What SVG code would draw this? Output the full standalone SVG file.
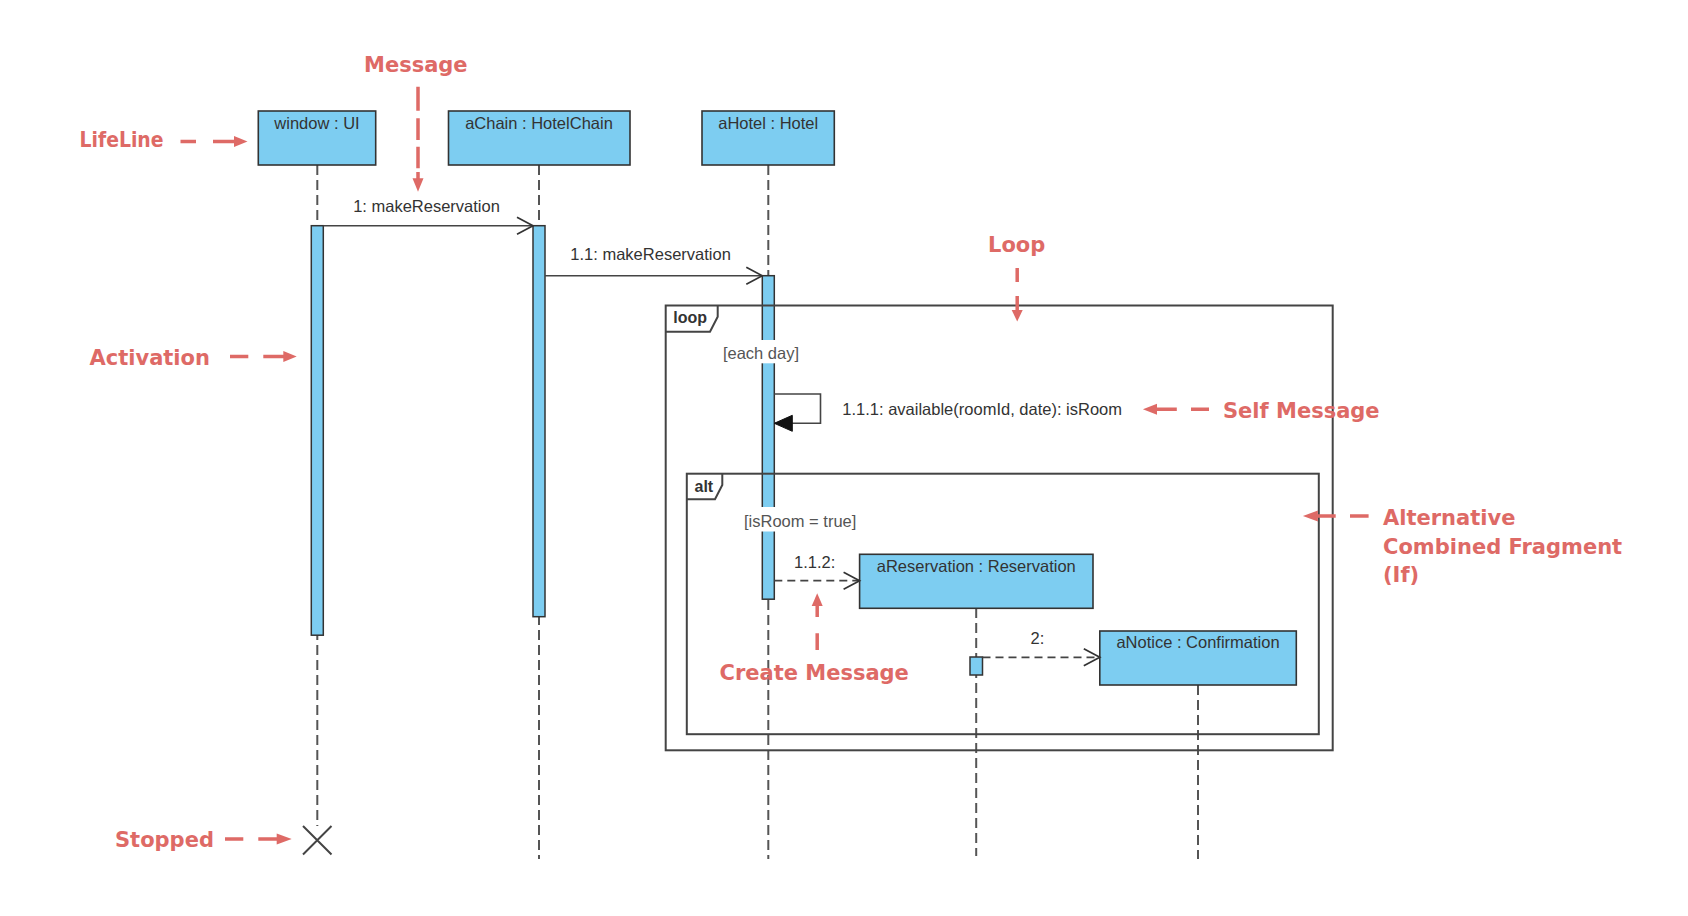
<svg xmlns="http://www.w3.org/2000/svg" width="1688" height="916" viewBox="0 0 1688 916">
<style>
.box{fill:#7dcdf1;stroke:#333;stroke-width:1.6}
.act{fill:#7dcdf1;stroke:#333;stroke-width:1.5}
.life{stroke:#555;stroke-width:2;stroke-dasharray:10 5;fill:none}
.msg{stroke:#444;stroke-width:1.6;fill:none}
.dmsg{stroke:#444;stroke-width:1.8;fill:none;stroke-dasharray:8 5}
.frame{fill:none;stroke:#444;stroke-width:2}
.lbl{font-family:"Liberation Sans",Arial,sans-serif;font-size:16.5px;fill:#333}
.glbl{font-family:"Liberation Sans",Arial,sans-serif;font-size:16.5px;fill:#555}
.ftag{font-family:"Liberation Sans",Arial,sans-serif;font-size:16px;font-weight:bold;fill:#333}
.ann{font-family:"DejaVu Sans",sans-serif;font-size:21px;font-weight:bold;fill:#de6a66}
.aline{stroke:#de6a66;stroke-width:3.5;fill:none}
.ahead{fill:#de6a66}
</style>
<defs>
<marker id="open" viewBox="-18 -10 20 20" markerWidth="20" markerHeight="20" refX="0" refY="0" orient="auto" markerUnits="userSpaceOnUse">
<path d="M-16,-8.5 L0,0 L-16,8.5" fill="none" stroke="#333" stroke-width="1.7"/>
</marker>
<marker id="filled" viewBox="-20 -10 22 20" markerWidth="22" markerHeight="20" refX="0" refY="0" orient="auto" markerUnits="userSpaceOnUse">
<path d="M-18,-8 L0,0 L-18,8 Z" fill="#111" stroke="#111" stroke-width="1"/>
</marker>
</defs>
<rect width="1688" height="916" fill="#fff"/>

<g id="lifelines">
<line class="life" x1="317.3" y1="165" x2="317.3" y2="826"/>
<line class="life" x1="539" y1="165" x2="539" y2="859"/>
<line class="life" x1="768.3" y1="165" x2="768.3" y2="859"/>
<line class="life" x1="976.2" y1="608" x2="976.2" y2="856"/>
<line class="life" x1="1198" y1="685" x2="1198" y2="859"/>
</g>

<g id="node-window">
<rect class="box" x="258.3" y="111" width="117.4" height="54"/>
<text class="lbl" x="317" y="129.3" text-anchor="middle">window : UI</text>
</g>
<g id="node-aChain">
<rect class="box" x="448.5" y="111" width="181.5" height="54"/>
<text class="lbl" x="539" y="129.3" text-anchor="middle">aChain : HotelChain</text>
</g>
<g id="node-aHotel">
<rect class="box" x="702" y="111" width="132.3" height="54"/>
<text class="lbl" x="768.2" y="129.3" text-anchor="middle">aHotel : Hotel</text>
</g>
<g id="node-aReservation">
<rect class="box" x="859.6" y="554.3" width="233.4" height="54"/>
<text class="lbl" x="976.3" y="571.7" text-anchor="middle">aReservation : Reservation</text>
</g>
<g id="node-aNotice">
<rect class="box" x="1099.8" y="631" width="196.5" height="54"/>
<text class="lbl" x="1198" y="648.3" text-anchor="middle">aNotice : Confirmation</text>
</g>

<g id="activations">
<rect class="act" x="311.3" y="225.7" width="12" height="409.5"/>
<rect class="act" x="533" y="225.7" width="12" height="391"/>
<rect class="act" x="762.3" y="275.7" width="12" height="323.5"/>
<rect class="act" x="970" y="657" width="12.5" height="18"/>
</g>

<g id="stop">
<path d="M303,826 L331.5,854.5 M331.5,826 L303,854.5" stroke="#444" stroke-width="2" fill="none"/>
</g>

<g id="fragment-loop">
<rect class="frame" x="665.7" y="305.5" width="667" height="444.8"/>
<path class="frame" d="M665.7,331.7 H710 L717.7,316.7 V305.5"/>
<text class="ftag" x="673.3" y="323.3">loop</text>
<rect x="721" y="340" width="82" height="23.3" fill="#fff"/>
<text class="glbl" x="722.9" y="359">[each day]</text>
</g>

<g id="fragment-alt">
<rect class="frame" x="686.8" y="473.7" width="632" height="260.5"/>
<path class="frame" d="M686.8,499.3 H715 L722.3,485 V473.7"/>
<text class="ftag" x="694.5" y="491.7">alt</text>
<rect x="742" y="507" width="119" height="24.5" fill="#fff"/>
<text class="glbl" x="744" y="527.3">[isRoom = true]</text>
</g>

<g id="connectors">
<line class="msg" x1="323.3" y1="225.7" x2="533" y2="225.7" marker-end="url(#open)"/>
<text class="lbl" x="426.5" y="211.7" text-anchor="middle">1: makeReservation</text>
<line class="msg" x1="545" y1="275.7" x2="762.3" y2="275.7" marker-end="url(#open)"/>
<text class="lbl" x="650.6" y="260" text-anchor="middle">1.1: makeReservation</text>
<path class="msg" d="M774.3,394 H820.5 V423.3 H774.3" marker-end="url(#filled)"/>
<text class="lbl" x="842.3" y="415">1.1.1: available(roomId, date): isRoom</text>
<line class="dmsg" x1="774.3" y1="580.7" x2="859.6" y2="580.7" marker-end="url(#open)"/>
<text class="lbl" x="794" y="568.3">1.1.2:</text>
<line class="dmsg" x1="982.5" y1="657.3" x2="1099.8" y2="657.3" marker-end="url(#open)"/>
<text class="lbl" x="1030.6" y="644">2:</text>
</g>

<g id="annotations">
<text class="ann" x="79.5" y="147.4" textLength="84" lengthAdjust="spacingAndGlyphs">LifeLine</text>
<path class="aline" d="M180.5,141.5 H196 M213,141.5 H236"/>
<path class="ahead" d="M234,136 L247.5,141.5 L234,147 Z"/>

<text class="ann" x="364" y="71.5">Message</text>
<path class="aline" d="M418,86.7 V110.7 M418,118.3 V140 M418,146.7 V168.3 M418,172 V180"/>
<path class="ahead" d="M412.5,178.3 L418,191.7 L423.5,178.3 Z"/>

<text class="ann" x="988" y="252">Loop</text>
<path class="aline" d="M1017.2,268 V282 M1017.2,296 V312"/>
<path class="ahead" d="M1011.7,310 L1017.2,321.5 L1022.7,310 Z"/>

<text class="ann" x="89.5" y="365">Activation</text>
<path class="aline" d="M230,356.5 H248.3 M263.3,356.5 H285"/>
<path class="ahead" d="M283.3,351 L296.7,356.5 L283.3,362 Z"/>

<text class="ann" x="1223" y="417.5">Self Message</text>
<path class="aline" d="M1155,409.3 H1176.8 M1191,409.3 H1209"/>
<path class="ahead" d="M1157,403.8 L1142.9,409.3 L1157,414.8 Z"/>

<text class="ann" x="1383" y="524.5">Alternative</text>
<text class="ann" x="1383" y="553.5">Combined Fragment</text>
<text class="ann" x="1383" y="582">(If)</text>
<path class="aline" d="M1316,516 H1335.7 M1350,516 H1368.6"/>
<path class="ahead" d="M1317.9,510.5 L1302.9,516 L1317.9,521.5 Z"/>

<text class="ann" x="719.5" y="680">Create Message</text>
<path class="aline" d="M817.2,650 V633.3 M817.2,617 V604"/>
<path class="ahead" d="M811.7,606 L817.2,593.3 L822.7,606 Z"/>

<text class="ann" x="115" y="847">Stopped</text>
<path class="aline" d="M225,839 H243.3 M258.3,839 H278"/>
<path class="ahead" d="M276.7,833.5 L291.7,839 L276.7,844.5 Z"/>
</g>
</svg>
